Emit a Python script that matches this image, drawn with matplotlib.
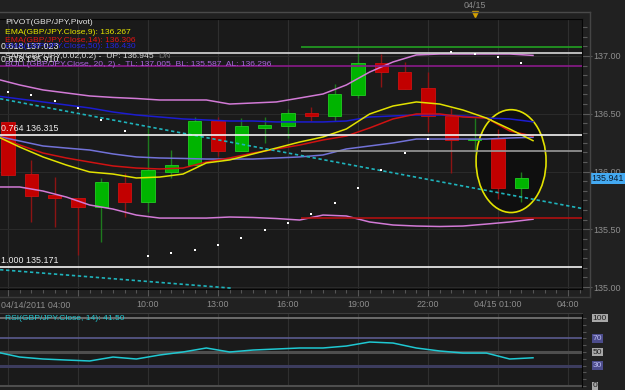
import numpy as np
import matplotlib
matplotlib.use('Agg')
import matplotlib.pyplot as plt
import matplotlib.transforms as mtransforms
from matplotlib.patches import Ellipse
from matplotlib.lines import Line2D
from matplotlib.ticker import MultipleLocator

plt.rcParams['font.family'] = ['Liberation Sans', 'DejaVu Sans']

# hourly GBP/JPY candles, x = hours since 04/14/2011 04:00
opens = [136.43, 135.98, 135.80, 135.77, 135.69, 135.90, 135.74, 136.00, 136.06, 136.44, 136.18, 136.38,
         136.39, 136.51, 136.48, 136.66, 136.94, 136.86, 136.72, 136.48, 136.27, 136.28, 135.86]
highs = [136.43, 136.10, 135.95, 135.77, 135.94, 135.99, 136.38, 136.19, 136.47, 136.47, 136.46, 136.47,
         136.54, 136.56, 136.76, 137.03, 137.02, 136.95, 136.86, 136.55, 136.46, 136.37, 136.00]
lows = [135.97, 135.56, 135.52, 135.28, 135.39, 135.61, 135.65, 135.94, 136.06, 136.13, 136.18, 136.25,
        136.29, 136.44, 136.44, 136.64, 136.73, 136.71, 136.34, 135.99, 136.17, 135.76, 135.74]
closes = [135.97, 135.79, 135.77, 135.69, 135.91, 135.74, 136.01, 136.06, 136.44, 136.18, 136.39, 136.40,
          136.51, 136.48, 136.67, 136.94, 136.86, 136.71, 136.48, 136.27, 136.28, 135.86, 135.941]

# indicators: one value before the first candle + one per candle
ema9 = [136.307, 136.212, 136.126, 136.056, 135.996, 135.978, 135.944, 135.952, 135.978, 136.074, 136.100, 136.152,
        136.203, 136.255, 136.299, 136.368, 136.498, 136.567, 136.602, 136.584, 136.532, 136.463, 136.368, 136.267]
ema14 = [136.307, 136.229, 136.160, 136.117, 136.082, 136.048, 136.030, 136.022, 136.030, 136.082, 136.117, 136.160,
         136.195, 136.229, 136.273, 136.307, 136.377, 136.455, 136.498, 136.498, 136.472, 136.463, 136.351, 136.306]
ema50 = [136.654, 136.628, 136.602, 136.576, 136.550, 136.515, 136.489, 136.472, 136.455, 136.446, 136.437, 136.437,
         136.429, 136.429, 136.429, 136.437, 136.472, 136.481, 136.489, 136.489, 136.481, 136.463, 136.455, 136.430]
boll_mid = [136.307, 136.264, 136.221, 136.203, 136.186, 136.152, 136.126, 136.117, 136.113, 136.108, 136.108, 136.108,
            136.117, 136.126, 136.143, 136.195, 136.221, 136.247, 136.281, 136.281, 136.281, 136.281, 136.290, 136.296]
boll_top = [136.801, 136.749, 136.706, 136.680, 136.654, 136.641, 136.632, 136.619, 136.619, 136.619, 136.584, 136.593,
            136.602, 136.636, 136.671, 136.749, 136.861, 136.948, 137.009, 137.017, 137.017, 137.017, 137.017, 137.005]
boll_bot = [135.866, 135.866, 135.831, 135.779, 135.710, 135.675, 135.623, 135.597, 135.597, 135.597, 135.606, 135.602,
            135.593, 135.580, 135.623, 135.615, 135.563, 135.537, 135.528, 135.524, 135.528, 135.545, 135.563, 135.587]
rsi = [50.0, 42.6, 39.7, 38.2, 36.8, 42.6, 39.7, 45.6, 50.0, 55.9, 50.0, 52.9,
       54.4, 55.9, 55.9, 58.8, 64.7, 63.2, 55.9, 51.5, 48.5, 48.5, 39.7, 41.5]
sar = [136.688, 136.662, 136.610, 136.550, 136.446, 136.351, 135.268, 135.294, 135.320, 135.364, 135.424, 135.494,
       135.554, 135.632, 135.727, 135.857, 136.013, 136.160, 136.281, 137.035, 137.017, 136.991, 136.939]

# drawn objects
fib_levels = [137.023, 136.910, 136.315, 135.171]
fib_labels = ['0.618 137.023', '0.618 136.910', '0.764 136.315', '1.000 135.171']
fib_colors = ['#d8d8d8', '#8a1a8a', '#f4f4f4', '#f4f4f4']
pivot_levels = [137.08, 136.18, 135.60]
pivot_colors = ['#22a022', '#9a9a9a', '#b01010']
pivot_start = 12.55
trend1_x, trend1_y = [-0.34, 24.6], [136.63, 135.68]
trend2_x, trend2_y = [-0.34, 9.6], [135.15, 134.99]
ellipse_xy, ellipse_w, ellipse_h = (21.56, 136.09), 3.0, 0.89
day_start = 20

time_ticks = list(range(0, 25, 3))
time_labels = ['', '', '10:00', '13:00', '16:00', '19:00', '22:00', '04/15 01:00', '04:00']
price_ticks = [135.0, 135.5, 136.0, 136.5, 137.0]
rsi_levels = [100, 70, 50, 30, 0]

BG = '#212121'
PANEL = '#1a1a1a'
W, H = 625, 390
FS = 6.1


def box(l, t, r, b):
    return [l / W, 1 - b / H, (r - l) / W, (b - t) / H]


fig = plt.figure(figsize=(W / 100, H / 100), dpi=100, facecolor=BG)
ax = fig.add_axes(box(0, 19, 582, 289), facecolor=PANEL)
rax = fig.add_axes(box(0, 313, 582, 387), facecolor=PANEL)

hours = np.arange(len(opens))
ind_hours = np.arange(-1, len(opens)) + 0.5
o, h, l, c = map(np.array, (opens, highs, lows, closes))
up = c >= o
body_lo = np.minimum(o, c)
body_h = np.maximum(np.abs(c - o), 0.012)

# ---- main panel ----
ax.set_xlim(-0.343, 24.6)
ax.set_ylim(134.983, 137.320)
for t in time_ticks:
    ax.axvline(t, color='#2f2f2f', lw=0.8, zorder=0)
for p in price_ticks:
    ax.axhline(p, color='#2a2a2a', lw=0.8, zorder=0)

ax.add_patch(Ellipse(ellipse_xy, ellipse_w, ellipse_h, facecolor='#0f0f0f',
                     edgecolor='#e2e200', lw=1.2, zorder=1.5))

ax.vlines(hours[up], l[up], h[up], color='#1e7a1e', lw=1, zorder=3)
ax.vlines(hours[~up], l[~up], h[~up], color='#8c1414', lw=1, zorder=3)
ax.bar(hours[up], body_h[up], 0.58, bottom=body_lo[up], color='#00b400',
       edgecolor='#22cc22', lw=0.6, zorder=4)
ax.bar(hours[~up], body_h[~up], 0.58, bottom=body_lo[~up], color='#c20000',
       edgecolor='#cc1010', lw=0.6, zorder=4)

ax.plot(ind_hours, boll_top, color='#d27ad6', lw=1.1, zorder=5)
ax.plot(ind_hours, boll_bot, color='#d27ad6', lw=1.1, zorder=5)
ax.plot(ind_hours, boll_mid, color='#7272d8', lw=1.1, zorder=5)
ax.plot(ind_hours, ema50, color='#1c1cd0', lw=1.1, zorder=5)
ax.plot(ind_hours, ema14, color='#d01212', lw=1.1, zorder=5)
ax.plot(ind_hours, ema9, color='#e2e200', lw=1.1, zorder=5)

ax.plot(trend1_x, trend1_y, color='#1fb4bc', lw=1.2, ls=(0, (2, 1.6)), zorder=5)
ax.plot(trend2_x, trend2_y, color='#1fb4bc', lw=1.2, ls=(0, (2, 1.6)), zorder=5)

for lvl, col in zip(pivot_levels, pivot_colors):
    ax.hlines(lvl, pivot_start, 24.6, color=col, lw=1.2, zorder=6)
for lvl, lab, col in zip(fib_levels, fib_labels, fib_colors):
    ax.axhline(lvl, color=col, lw=1.2, zorder=6)
    ax.text(0.002, lvl + 0.02, lab, transform=ax.get_yaxis_transform(),
            color='#f0f0f0', fontsize=FS + 0.3, va='bottom', ha='left', zorder=9)

ax.scatter(hours, sar, marker='s', s=2.2, color='white', lw=0, zorder=7)

ax.yaxis.tick_right()
ax.set_yticks(price_ticks)
ax.set_yticklabels([f'{p:.2f}' for p in price_ticks])
ax.yaxis.set_minor_locator(MultipleLocator(0.5 / 6))
ax.tick_params(axis='y', which='major', direction='out', length=7, width=0.8,
               color='#5a5a5a', labelcolor='#8e8e8e', labelsize=FS + 0.4, pad=1)
ax.tick_params(axis='y', which='minor', direction='out', length=3.5, width=0.8, color='#5a5a5a')
ax.set_xticks(time_ticks)
ax.set_xticklabels(time_labels)
ax.xaxis.set_minor_locator(MultipleLocator(0.5))
ax.tick_params(axis='x', which='major', direction='out', length=5, width=0.8,
               color='#555555', labelcolor='#8e8e8e', labelsize=FS + 0.3, pad=3)
ax.tick_params(axis='x', which='minor', direction='out', length=3, width=0.8, color='#555555')
for side in ('top', 'right', 'bottom'):
    ax.spines[side].set_color('#050505')
ax.spines['left'].set_visible(False)

yx = mtransforms.blended_transform_factory(ax.transAxes, ax.transData)
ax.text(1.0165, closes[-1], f'{closes[-1]:.3f}', transform=yx, color='#0b1a2c', fontsize=FS + 0.3,
        va='center', ha='left', bbox=dict(facecolor='#44aaf2', edgecolor='none', pad=0.8))

fig.text(1 / W, 1 - 305 / H, '04/14/2011 04:00', color='#8e8e8e', fontsize=FS + 0.3,
         va='center', ha='left')

# top strip with the day marker
top_tr = mtransforms.blended_transform_factory(ax.transData, fig.transFigure)
ax.plot([day_start], [1 - 14 / H], marker='v', color='#d4a000', ms=5, transform=top_tr, clip_on=False)
ax.text(day_start, 1 - 5 / H, '04/15', transform=top_tr, color='#8a8a8a', fontsize=FS + 0.3,
        ha='center', va='center')

fig.add_artist(Line2D([0, 590 / W], [1 - 12 / H, 1 - 12 / H], color='#4a4a4a', lw=1))
fig.add_artist(Line2D([590 / W, 590 / W], [1 - 12 / H, 1 - 297 / H], color='#454545', lw=1))
fig.add_artist(Line2D([0, 590 / W], [1 - 297 / H, 1 - 297 / H], color='#3c3c3c', lw=1))

# legend texts
legend = [('PIVOT(GBP/JPY,Pivot)', '#e6e6e6', 23),
          ('EMA(GBP/JPY.Close,9): 136.267', '#e6e600', 32),
          ('EMA(GBP/JPY.Close,14): 136.306', '#e01414', 40),
          ('EMA(GBP/JPY.Close,50): 136.430', '#2424e0', 47),
          ('SAR(GBP/JPY,0.02,0.2) -  UP: 136.945', '#dcdcdc', 56),
          ('BOLL(GBP/JPY.Close, 20, 2) -  TL: 137.005  BL: 135.587  AL: 136.296', '#a865dc', 64)]
for txt, col, yp in legend:
    fig.text(5 / W, 1 - yp / H, txt, color=col, fontsize=FS, va='center', ha='left', zorder=10)
fig.text(158 / W, 1 - 56 / H, 'DN', color='#6e6e6e', fontsize=FS, va='center', ha='left')

# ---- RSI panel ----
rax.set_xlim(-0.343, 24.6)
rax.set_ylim(-1.5, 107.4)
for t in time_ticks:
    rax.axvline(t, color='#2f2f2f', lw=0.8, zorder=0)
rsi_line_styles = {100: ('#7a7a7a', 1.2), 70: ('#5a5a8e', 1.2), 50: ('#4e4e4e', 2.2),
                   30: ('#3c3c5e', 2.2), 0: ('#4e4e4e', 2.2)}
for lvl in rsi_levels:
    col, lw = rsi_line_styles[lvl]
    rax.axhline(lvl, color=col, lw=lw, zorder=1)
rax.plot(ind_hours, rsi, color='#1fc8d2', lw=1.1, zorder=3)

ry = mtransforms.blended_transform_factory(rax.transAxes, rax.transData)
for lvl in rsi_levels:
    if lvl in (70, 30):
        fc, tc = '#4c4c8c', '#b8b8f0'
    else:
        fc, tc = '#a8a8a8', '#1e1e1e'
    rax.text(1.018, lvl, str(lvl), transform=ry, color=tc, fontsize=FS, va='center', ha='left',
             bbox=dict(facecolor=fc, edgecolor='none', pad=0.6))
fig.text(5 / W, 1 - 318 / H, 'RSI(GBP/JPY.Close, 14): 41.50', color='#1fc8d2', fontsize=FS,
         va='center', ha='left')

rax.tick_params(left=False, bottom=False, labelbottom=False, labelleft=False)
rax.yaxis.tick_right()
rax.set_yticks(range(0, 101, 10))
rax.tick_params(axis='y', direction='out', length=3, color='#555555', labelright=False)
rax.spines['left'].set_visible(False)
rax.spines['bottom'].set_visible(False)
rax.spines['top'].set_color('#3c3c3c')
rax.spines['right'].set_color('#050505')

fig.savefig('out.png', dpi=100, facecolor=BG)
